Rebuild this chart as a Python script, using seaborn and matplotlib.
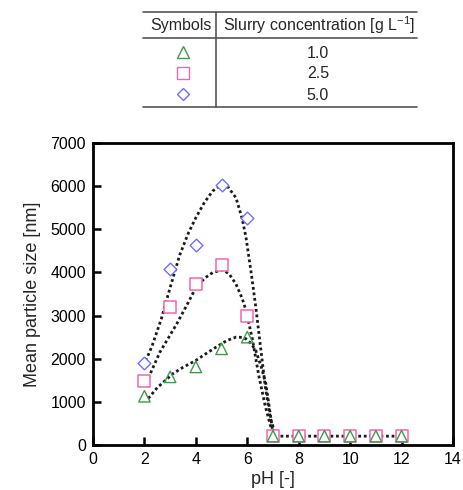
import matplotlib
matplotlib.use("Agg")
import matplotlib.pyplot as plt
import seaborn as sns
import pandas as pd

# ---- data ----
ph_low = [2, 3, 4, 5, 6]
ph_high = [7, 8, 9, 10, 11, 12]
ph_all = ph_low + ph_high

size_1_0 = [1130, 1580, 1810, 2230, 2500, 205, 205, 205, 205, 205, 205]
size_2_5 = [1480, 3210, 3730, 4170, 2990, 205, 205, 205, 205, 205, 205]
size_5_0 = [1910, 4080, 4640, 6030, 5260]

# fitted dotted curves
fit_x_1_0 = [2.15, 2.5, 3.1, 3.5, 4.0, 4.4, 4.79, 5.2, 5.56, 5.8, 5.95, 6.15, 6.33, 6.55, 6.72, 6.85, 6.98, 7.05, 12.0]
fit_y_1_0 = [1080, 1330, 1650, 1800, 1960, 2120, 2270, 2420, 2500, 2495, 2460, 2350, 2190, 1800, 1420, 900, 350, 205, 205]
fit_x_2_5 = [2.15, 2.6, 3.25, 3.7, 4.01, 4.35, 4.66, 5.05, 5.3, 5.56, 5.8, 5.95, 6.2, 6.45, 6.7, 6.9, 7.08]
fit_y_2_5 = [1550, 2150, 2800, 3300, 3660, 3870, 4000, 4060, 3960, 3730, 3400, 3120, 2450, 1600, 900, 450, 205]
fit_x_5_0 = [2.05, 2.3, 2.66, 3.0, 3.37, 3.7, 4.01, 4.33, 4.66, 5.0, 5.25, 5.56, 5.8, 5.95, 6.15, 6.33, 6.5, 6.7, 6.9, 7.12]
fit_y_5_0 = [1950, 2300, 2930, 3650, 4400, 4900, 5280, 5620, 5890, 6030, 5980, 5730, 5250, 4810, 4000, 3200, 2350, 1350, 620, 205]

table_header = ["Symbols", "Slurry concentration [g L$^{-1}$]"]
table_values = ["1.0", "2.5", "5.0"]

x_ticks = [0, 2, 4, 6, 8, 10, 12, 14]
y_ticks = [0, 1000, 2000, 3000, 4000, 5000, 6000, 7000]

c_green = "#3f9a4f"
c_pink = "#f266b0"
c_blue = "#7070f0"

sns.set_style("ticks")
plt.rcParams["font.family"] = ["Liberation Sans", "DejaVu Sans"]
plt.rcParams["mathtext.fontset"] = "custom"
plt.rcParams["mathtext.rm"] = "Liberation Sans"
plt.rcParams["mathtext.default"] = "regular"

W, H = 464, 490
fig = plt.figure(figsize=(W / 100, H / 100), dpi=100)

# ---- main axes ----
ax = fig.add_axes([93 / W, (H - 445) / H, (453 - 93) / W, (445 - 143) / H])

dot = dict(color="#1a1a1a", linewidth=2.0, linestyle=(0, (1, 1.0)), estimator=None, sort=False, legend=False)
sns.lineplot(x=fit_x_5_0, y=fit_y_5_0, ax=ax, **dot)
sns.lineplot(x=fit_x_2_5, y=fit_y_2_5, ax=ax, **dot)
sns.lineplot(x=fit_x_1_0, y=fit_y_1_0, ax=ax, **dot)

sns.scatterplot(x=ph_low, y=size_5_0, ax=ax, marker="D", s=42, facecolors="white",
                edgecolors=c_blue, linewidths=1.0, zorder=3, legend=False)
sns.scatterplot(x=ph_all, y=size_2_5, ax=ax, marker="s", s=80, facecolors="white",
                edgecolors=c_pink, linewidths=1.1, zorder=4, legend=False)
sns.scatterplot(x=ph_all, y=size_1_0, ax=ax, marker="^", s=68, facecolors="none",
                edgecolors=c_green, linewidths=1.0, zorder=5, legend=False)

ax.set_xlim(0, 14)
ax.set_ylim(0, 7000)
ax.set_xticks(x_ticks)
ax.set_yticks(y_ticks)
ax.tick_params(direction="in", length=6, width=1.8, labelsize=11.5, pad=5, colors="black")
for sp in ax.spines.values():
    sp.set_linewidth(2.0)
    sp.set_color("black")
ax.set_xlabel("pH [-]", fontsize=13, labelpad=3)
ax.set_ylabel("Mean particle size [nm]", fontsize=13, labelpad=7)

# ---- table at the top (pixel coordinates) ----
tax = fig.add_axes([0, 0, 1, 1])
tax.set_xlim(0, W)
tax.set_ylim(H, 0)
tax.axis("off")
for yy in [12, 38, 107]:
    tax.plot([143, 417], [yy, yy], color="#555555", lw=1.2)
tax.plot([216.5, 216.5], [12, 107], color="#555555", lw=1.2)
tax.text(180.5, 25.5, table_header[0], ha="center", va="center", fontsize=11.5)
tax.text(319, 25.5, table_header[1], ha="center", va="center", fontsize=11.5)
row_y = [52, 73, 94]
marks = [("^", c_green, 8.0), ("s", c_pink, 8.0), ("D", c_blue, 6.5)]
for yy, val, (m, c, ms) in zip(row_y, table_values, marks):
    tax.plot([183], [yy], marker=m, ms=ms, mfc="none", mec=c, mew=1.0, ls="none")
    tax.text(318, yy + 1, val, ha="center", va="center", fontsize=11.5)

fig.savefig("out.png", dpi=100)
